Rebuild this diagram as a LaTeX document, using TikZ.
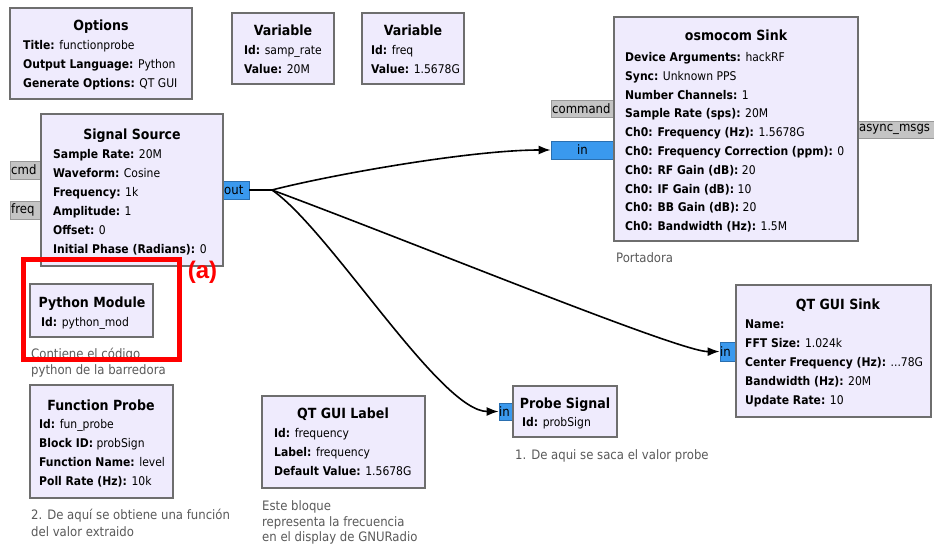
\documentclass[tikz,border=0pt]{standalone}
\usepackage{fontspec}
\setmainfont{DejaVu Sans Condensed}
\newfontfamily\arialfam{Liberation Sans}
\usetikzlibrary{arrows.meta,fit}
\definecolor{blkfill}{HTML}{EFEBFD}
\definecolor{blkdraw}{HTML}{6E6E6E}
\definecolor{portblue}{HTML}{3A99EE}
\definecolor{portbluedraw}{HTML}{2A6FB0}
\definecolor{portgray}{HTML}{C4C4C4}
\definecolor{portgraydraw}{HTML}{989898}
\definecolor{cmtgray}{HTML}{5A5A5A}
\newcommand\threedots{...}
\tikzset{
 blk/.style={draw=blkdraw, fill=blkfill, line width=2pt, inner sep=0pt},
 ttl/.style={font=\fontsize{14}{16}\selectfont\bfseries, inner sep=0pt, anchor=base},
 fld/.style={font=\fontsize{12}{14}\selectfont, inner sep=0pt, anchor=base west},
 pblue/.style={draw=portbluedraw, fill=portblue, line width=0.8pt, inner sep=0pt},
 pgray/.style={draw=portgraydraw, fill=portgray, line width=0.8pt, inner sep=0pt},
 plbl/.style={font=\fontsize{13}{15}\selectfont, inner sep=0pt},
 cmt/.style={font=\fontsize{13}{15}\selectfont, text=cmtgray, inner sep=0pt, anchor=base west},
 wire/.style={line width=1.6pt, -{Latex[length=12pt,width=9pt]}},
}
% #1 name, #2 x, #3 first center y, #4 step, #5 list
\newcommand\fieldlist[5]{%
  \foreach \ftxt [count=\i from 0] in {#5}{%
    \node[fld] (#1-\i) at (#2,{#3+4.5+#4*\i}) {\ftxt};}}
\newcommand\cmtlist[5]{%
  \foreach \ftxt [count=\i from 0] in {#5}{%
    \node[cmt] (#1-\i) at (#2,{#3+4.5+#4*\i}) {\ftxt};}}
\begin{document}
\begin{tikzpicture}[x=1pt,y=-1pt]
\fill[white] (0,0) rectangle (934,545);
\useasboundingbox (0,0) rectangle (934,545);

% ---------- ports ----------
\node[pgray, fit={(10,161)(41,179)}] (src-cmd) {};
\node[pgray, fit={(10,201)(41,219)}] (src-freq) {};
\node[pblue, fit={(223,181)(249,199)}] (src-out) {};
\node[pgray, fit={(551,100)(614,117)}] (osm-cmd) {};
\node[pblue, fit={(551,141)(614,159)}] (osm-in) {};
\node[pgray, fit={(858,121)(936,138)}] (osm-async) {};
\node[pblue, fit={(720,342)(736,361)}] (sink-in) {};
\node[pblue, fit={(499,403)(513,420)}] (prb-in) {};

% ---------- blocks ----------
\node[blk, fit={(10,8)(192,99)}] (opt) {};
\node[blk, fit={(232,13)(334,84)}] (var1) {};
\node[blk, fit={(362,13)(464,84)}] (var2) {};
\node[blk, fit={(614,17)(858,241)}] (osm) {};
\node[blk, fit={(41,114)(223,266)}] (src) {};
\node[blk, fit={(30,284)(153,337)}] (pym) {};
\node[blk, fit={(30,385)(173,498)}] (fpr) {};
\node[blk, fit={(262,396)(425,488)}] (lbl) {};
\node[blk, fit={(513,386)(617,437)}] (prb) {};
\node[blk, fit={(736,285)(931,417)}] (sink) {};

% ---------- port labels ----------
\node[plbl, anchor=west] (t-cmd) at (11,170) {cmd};
\node[plbl, anchor=west] (t-freq) at (11,210) {freq};
\node[plbl, anchor=west] (t-out) at (224,190) {out};
\node[plbl, anchor=west] (t-command) at (552,108.5) {command};
\node[plbl] (t-in1) at (582.5,150) {in};
\node[plbl, anchor=west] (t-async) at (859,129.5) {async\_msgs};
\node[plbl, anchor=west] (t-in2) at (720,351.5) {in};
\node[plbl, anchor=west] (t-in3) at (499,411.5) {in};

% ---------- titles ----------
\node[ttl] (opt-t) at (101,31) {Options};
\node[ttl] (var1-t) at (283,36) {Variable};
\node[ttl] (var2-t) at (413,36) {Variable};
\node[ttl] (osm-t) at (736,41) {osmocom Sink};
\node[ttl] (src-t) at (132,140) {Signal Source};
\node[ttl] (pym-t) at (92,307) {Python Module};
\node[ttl] (fpr-t) at (101,410) {Function Probe};
\node[ttl] (lbl-t) at (343,418) {QT GUI Label};
\node[ttl] (prb-t) at (565,408) {Probe Signal};
\node[ttl] (sink-t) at (838,309) {QT GUI Sink};

% ---------- fields ----------
\fieldlist{opt-f}{23}{45}{19}{{\textbf{Title:} functionprobe},{\textbf{Output Language:} Python},{\textbf{Generate Options:} QT GUI}}
\fieldlist{var1-f}{244}{50}{19}{{\textbf{Id:} samp\_rate},{\textbf{Value:} 20M}}
\fieldlist{var2-f}{371}{50}{19}{{\textbf{Id:} freq},{\textbf{Value:} 1.5678G}}
\fieldlist{osm-f}{625}{57}{18.8}{{\textbf{Device Arguments:} hackRF},{\textbf{Sync:} Unknown PPS},{\textbf{Number Channels:} 1},{\textbf{Sample Rate (sps):} 20M},{\textbf{Ch0: Frequency (Hz):} 1.5678G},{\textbf{Ch0: Frequency Correction (ppm):} 0},{\textbf{Ch0: RF Gain (dB):} 20},{\textbf{Ch0: IF Gain (dB):} 10},{\textbf{Ch0: BB Gain (dB):} 20},{\textbf{Ch0: Bandwidth (Hz):} 1.5M}}
\fieldlist{src-f}{53}{154}{19}{{\textbf{Sample Rate:} 20M},{\textbf{Waveform:} Cosine},{\textbf{Frequency:} 1k},{\textbf{Amplitude:} 1},{\textbf{Offset:} 0},{\textbf{Initial Phase (Radians):} 0}}
\fieldlist{pym-f}{41}{322}{19}{{\textbf{Id:} python\_mod}}
\fieldlist{fpr-f}{39}{424}{19}{{\textbf{Id:} fun\_probe},{\textbf{Block ID:} probSign},{\textbf{Function Name:} level},{\textbf{Poll Rate (Hz):} 10k}}
\fieldlist{lbl-f}{274}{433}{19}{{\textbf{Id:} frequency},{\textbf{Label:} frequency},{\textbf{Default Value:} 1.5678G}}
\fieldlist{prb-f}{522}{422}{19}{{\textbf{Id:} probSign}}
\fieldlist{sink-f}{745}{324}{19}{{\textbf{Name:}},{\textbf{FFT Size:} 1.024k},{\textbf{Center Frequency (Hz):} \threedots78G},{\textbf{Bandwidth (Hz):} 20M},{\textbf{Update Rate:} 10}}

% ---------- comments ----------
\cmtlist{c-osm}{616}{258}{16}{{Portadora}}
\cmtlist{c-pym}{31}{354}{16}{{Contiene el código},{python de la barredora}}
\cmtlist{c-fpr}{31}{515}{16.5}{{2. De aquí se obtiene una función},{del valor extraido}}
\cmtlist{c-lbl}{262}{506}{15.5}{{Este bloque},{representa la frecuencia},{en el display de GNURadio}}
\cmtlist{c-prb}{515}{455}{16}{{1. De aqui se saca el valor probe}}

% ---------- red highlight ----------
\node[draw=red, line width=5pt, inner sep=0pt, fit={(23.5,259.5)(179.5,359.5)}] (redbox) {};
\node[text=red, inner sep=0pt, font=\arialfam\bfseries\fontsize{24}{26}\selectfont] (mark-a) at (202.5,272) {(a)};

% ---------- connectors ----------
\coordinate (split) at (272,190);
\draw[line width=1.6pt] (src-out.east) -- (split);
\draw[wire] (split) .. controls (330,175) and (470,150) .. (osm-in.west);
\draw[wire] (split) .. controls (420,245) and (680,352) .. (sink-in.west);
\draw[wire] (split) .. controls (330,230) and (440,411.5) .. (prb-in.west);
\end{tikzpicture}
\end{document}
